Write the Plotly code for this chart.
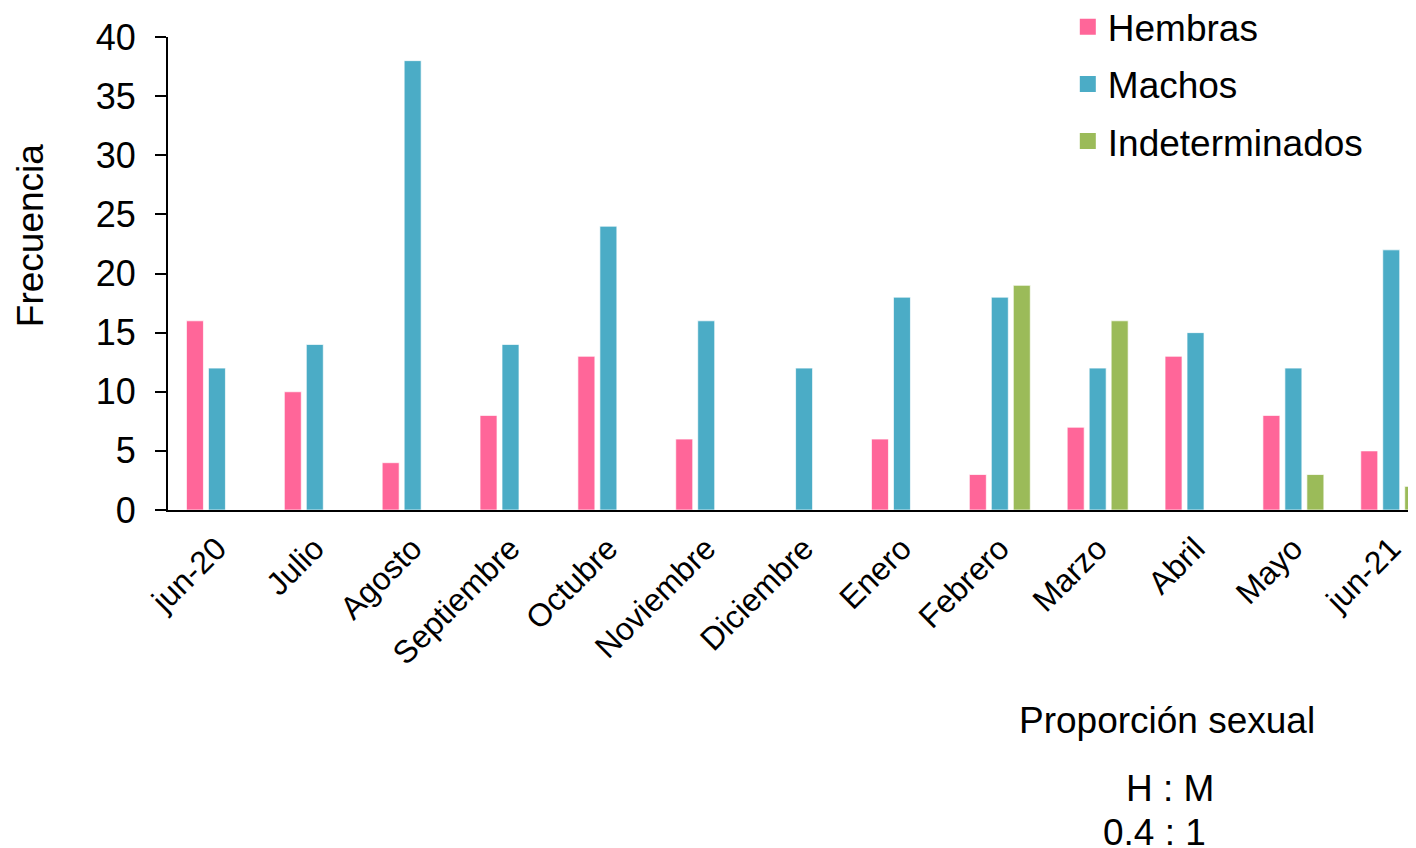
import plotly.graph_objects as go

meses = ["jun-20", "Julio", "Agosto", "Septiembre", "Octubre", "Noviembre",
         "Diciembre", "Enero", "Febrero", "Marzo", "Abril", "Mayo", "jun-21"]
hembras = [16, 10, 4, 8, 13, 6, 0, 6, 3, 7, 13, 8, 5]
machos = [12, 14, 38, 14, 24, 16, 12, 18, 18, 12, 15, 12, 22]
indeterminados = [None, None, None, None, None, None, None, None, 19, 16, None, 3, 2]

series = [("Hembras", hembras, "#FF6699"),
          ("Machos", machos, "#4BACC6"),
          ("Indeterminados", indeterminados, "#9BBB59")]

FONT = "Liberation Sans, Arial, sans-serif"
fig = go.Figure()
for name, vals, col in series:
    fig.add_trace(go.Bar(x=meses, y=vals, name=name, marker_color=col,
                         marker_line=dict(color="rgba(255,255,255,0.7)", width=1),
                         showlegend=False))
for i, (name, vals, col) in enumerate(series):
    fig.add_trace(go.Scatter(x=[None], y=[None], mode="markers", name=name,
                             legendgroup=name,
                             marker=dict(symbol="square", size=16, color=col)))

fig.update_layout(
    width=1408, height=840,
    margin=dict(l=160, r=0, t=29, b=338, autoexpand=False),
    paper_bgcolor="white", plot_bgcolor="white",
    barmode="group", bargap=0.326, bargroupgap=0.227,
    font=dict(family=FONT, size=36, color="black"),
    legend=dict(x=0.721, y=1.086, xanchor="left", yanchor="top",
                font=dict(size=37), tracegroupgap=6, itemwidth=30,
                bgcolor="rgba(0,0,0,0)"),
    xaxis=dict(type="category", range=[-0.5, 12.253], showline=True,
               linecolor="black", linewidth=2, ticks="", tickangle=-45,
               tickfont=dict(size=32), showgrid=False, automargin=False,
               ticklabelstandoff=5),
    yaxis=dict(range=[0, 40], dtick=5, showline=True, linecolor="black",
               linewidth=2, ticks="outside", ticklen=11, tickwidth=2,
               tickcolor="black", showgrid=False, zeroline=False,
               tickfont=dict(size=36), automargin=False, ticklabelstandoff=12),
    annotations=[
        dict(text="Frecuencia", textangle=-90, x=-0.1106, y=0.581,
             xref="paper", yref="paper", showarrow=False, font=dict(size=37),
             xanchor="center", yanchor="middle"),
        dict(text="Proporción sexual", x=0.8005, y=-0.444, xref="paper", yref="paper",
             showarrow=False, font=dict(size=37), xanchor="center", yanchor="middle"),
        dict(text="H : M", x=0.8025, y=-0.588, xref="paper", yref="paper",
             showarrow=False, font=dict(size=37), xanchor="center", yanchor="middle"),
        dict(text="0.4 : 1", x=0.7905, y=-0.681, xref="paper", yref="paper",
             showarrow=False, font=dict(size=37), xanchor="center", yanchor="middle"),
    ],
)
fig.write_html("out.html")
